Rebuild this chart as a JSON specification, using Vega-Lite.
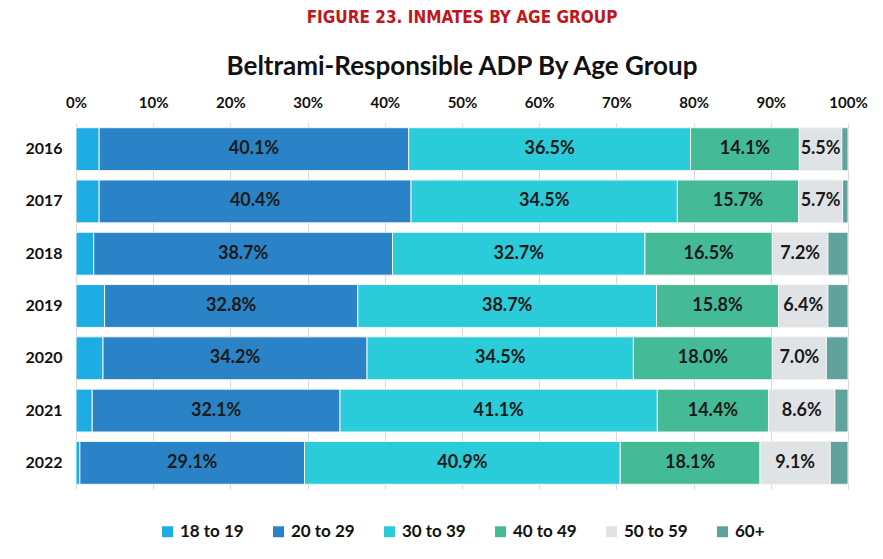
{
  "$schema": "https://vega.github.io/schema/vega-lite/v6.json",
  "width": 772,
  "height": 366,
  "padding": {"left": 24, "top": 9, "right": 13, "bottom": 10},
  "background": "white",
  "title": {
    "text": "FIGURE 23. INMATES BY AGE GROUP",
    "subtitle": "Beltrami-Responsible ADP By Age Group",
    "anchor": "middle",
    "font": "'Liberation Sans Narrow', 'DejaVu Sans Condensed', Roboto, sans-serif",
    "fontSize": 17,
    "fontWeight": "bold",
    "color": "#C0161C",
    "subtitleFont": "Lato",
    "subtitleFontSize": 26,
    "subtitleFontWeight": "bold",
    "subtitleColor": "#111111",
    "subtitlePadding": 27,
    "offset": 14
  },
  "data": {
    "values": [
      {"year": "2016", "group": "18 to 19", "v": 3.0},
      {"year": "2016", "group": "20 to 29", "v": 40.1},
      {"year": "2016", "group": "30 to 39", "v": 36.5},
      {"year": "2016", "group": "40 to 49", "v": 14.1},
      {"year": "2016", "group": "50 to 59", "v": 5.5},
      {"year": "2016", "group": "60+", "v": 0.8},
      {"year": "2017", "group": "18 to 19", "v": 3.0},
      {"year": "2017", "group": "20 to 29", "v": 40.4},
      {"year": "2017", "group": "30 to 39", "v": 34.5},
      {"year": "2017", "group": "40 to 49", "v": 15.7},
      {"year": "2017", "group": "50 to 59", "v": 5.7},
      {"year": "2017", "group": "60+", "v": 0.7},
      {"year": "2018", "group": "18 to 19", "v": 2.3},
      {"year": "2018", "group": "20 to 29", "v": 38.7},
      {"year": "2018", "group": "30 to 39", "v": 32.7},
      {"year": "2018", "group": "40 to 49", "v": 16.5},
      {"year": "2018", "group": "50 to 59", "v": 7.2},
      {"year": "2018", "group": "60+", "v": 2.6},
      {"year": "2019", "group": "18 to 19", "v": 3.7},
      {"year": "2019", "group": "20 to 29", "v": 32.8},
      {"year": "2019", "group": "30 to 39", "v": 38.7},
      {"year": "2019", "group": "40 to 49", "v": 15.8},
      {"year": "2019", "group": "50 to 59", "v": 6.4},
      {"year": "2019", "group": "60+", "v": 2.6},
      {"year": "2020", "group": "18 to 19", "v": 3.5},
      {"year": "2020", "group": "20 to 29", "v": 34.2},
      {"year": "2020", "group": "30 to 39", "v": 34.5},
      {"year": "2020", "group": "40 to 49", "v": 18.0},
      {"year": "2020", "group": "50 to 59", "v": 7.0},
      {"year": "2020", "group": "60+", "v": 2.8},
      {"year": "2021", "group": "18 to 19", "v": 2.1},
      {"year": "2021", "group": "20 to 29", "v": 32.1},
      {"year": "2021", "group": "30 to 39", "v": 41.1},
      {"year": "2021", "group": "40 to 49", "v": 14.4},
      {"year": "2021", "group": "50 to 59", "v": 8.6},
      {"year": "2021", "group": "60+", "v": 1.7},
      {"year": "2022", "group": "18 to 19", "v": 0.5},
      {"year": "2022", "group": "20 to 29", "v": 29.1},
      {"year": "2022", "group": "30 to 39", "v": 40.9},
      {"year": "2022", "group": "40 to 49", "v": 18.1},
      {"year": "2022", "group": "50 to 59", "v": 9.1},
      {"year": "2022", "group": "60+", "v": 2.3}
    ]
  },
  "transform": [
    {"stack": "v", "groupby": ["year"], "sort": [{"field": "group", "order": "ascending"}], "as": ["v0", "v1"]},
    {"calculate": "(datum.v0 + datum.v1) / 2", "as": "mid"},
    {"calculate": "format(datum.v, '.1f') + '%'", "as": "label"}
  ],
  "encoding": {
    "y": {
      "field": "year",
      "type": "nominal",
      "title": null,
      "scale": {"paddingInner": 0.18, "paddingOuter": 0.09},
      "axis": {
        "domain": false,
        "ticks": false,
        "labelFont": "Lato",
        "labelFontSize": 16,
        "labelFontWeight": "bold",
        "labelColor": "#111111",
        "labelPadding": 14
      }
    }
  },
  "layer": [
    {
      "mark": {"type": "bar", "stroke": "#f4f4f4", "strokeWidth": 1},
      "encoding": {
        "x": {
          "field": "v0",
          "type": "quantitative",
          "scale": {"domain": [0, 100]},
          "title": null,
          "axis": {
            "orient": "top",
            "values": [0, 10, 20, 30, 40, 50, 60, 70, 80, 90, 100],
            "labelExpr": "datum.value + '%'",
            "labelFlush": false,
            "domain": false,
            "ticks": false,
            "grid": true,
            "gridColor": "#d9d9d9",
            "gridWidth": 1,
            "labelFont": "Lato",
            "labelFontSize": 15,
            "labelFontWeight": "bold",
            "labelColor": "#111111",
            "labelPadding": 13
          }
        },
        "x2": {"field": "v1"},
        "color": {
          "field": "group",
          "type": "nominal",
          "title": null,
          "scale": {
            "domain": ["18 to 19", "20 to 29", "30 to 39", "40 to 49", "50 to 59", "60+"],
            "range": ["#1DACE3", "#2A83C6", "#29CCD8", "#45BA96", "#E0E3E6", "#5FA39C"]
          },
          "legend": {
            "orient": "bottom",
            "direction": "horizontal",
            "symbolType": "square",
            "symbolSize": 120,
            "symbolStrokeWidth": 0,
            "labelFont": "Lato",
            "labelFontSize": 17,
            "labelFontWeight": "bold",
            "labelColor": "#111111",
            "columnPadding": 26,
            "labelOffset": 4,
            "offset": 34
          }
        }
      }
    },
    {
      "transform": [{"filter": "datum.group != '18 to 19' && datum.group != '60+'"}],
      "mark": {"type": "text", "font": "Lato", "fontSize": 18, "fontWeight": "bold", "color": "#1a1a1a"},
      "encoding": {
        "x": {"field": "mid", "type": "quantitative"},
        "text": {"field": "label", "type": "nominal"},
        "detail": {"field": "group"}
      }
    }
  ],
  "config": {
    "view": {"stroke": null},
    "legend": {"layout": {"bottom": {"anchor": "middle"}}}
  }
}
